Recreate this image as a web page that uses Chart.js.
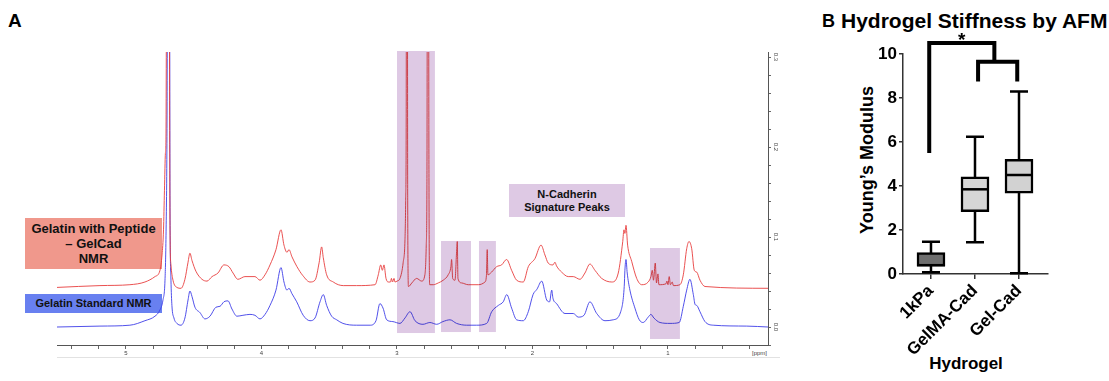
<!DOCTYPE html>
<html>
<head>
<meta charset="utf-8">
<script src="https://cdn.jsdelivr.net/npm/chart.js@4.4.1/dist/chart.umd.min.js"></script>
<style>
html,body{margin:0;padding:0;background:#fff;}
body{width:1109px;height:381px;position:relative;overflow:hidden;font-family:"Liberation Sans",Arial,Helvetica,sans-serif;}
.abs{position:absolute;}
.lbl{font-weight:bold;color:#111;text-align:center;box-sizing:border-box;}
canvas{position:absolute;}
</style>
</head>
<body>
<div class="abs" style="left:8px;top:11px;font-weight:bold;font-size:19px;line-height:19px;">A</div>
<div class="abs lbl" style="left:25px;top:218px;width:137px;height:51px;background:rgb(240,152,140);font-size:13px;line-height:15px;padding-top:3px;">Gelatin with Peptide<br>– GelCad<br>NMR</div>
<div class="abs lbl" style="left:25px;top:294px;width:137px;height:19px;background:rgb(104,128,240);font-size:11px;line-height:19px;">Gelatin Standard NMR</div>
<div class="abs lbl" style="left:509px;top:184px;width:116px;height:33px;background:rgb(222,201,228);font-size:11px;line-height:13px;padding-top:4px;">N-Cadherin<br>Signature Peaks</div>
<div class="abs" style="left:735px;top:350px;width:32px;text-align:right;font-size:6px;line-height:6px;color:#444;">[ppm]</div>
<div class="abs" style="left:57px;top:357px;width:723px;height:1px;background:#e2e2e2;"></div>

<div class="abs" style="left:822px;top:12px;font-weight:bold;font-size:18px;line-height:18px;">B</div>
<div class="abs" style="left:841px;top:10px;font-weight:bold;font-size:21px;line-height:21px;white-space:nowrap;">Hydrogel Stiffness by AFM</div>
<div class="abs" style="left:767px;top:149px;width:200px;height:22px;line-height:22px;text-align:center;font-weight:bold;font-size:18px;transform:rotate(-90deg);white-space:nowrap;">Young’s Modulus</div>
<div class="abs" style="left:916px;top:355px;width:100px;text-align:center;font-weight:bold;font-size:17px;line-height:17px;">Hydrogel</div>

<canvas id="nmr" width="760" height="322" style="left:40px;top:40px;"></canvas>
<canvas id="afm" width="289" height="381" style="left:820px;top:0px;"></canvas>

<script>
// ---------- NMR data (ppm, intensity) ----------
const blueShift = [5.509,5.192,4.971,4.860,4.786,4.749,4.727,4.712,4.705,4.698,4.690,4.679,4.675,4.668,4.661,4.646,4.624,4.594,4.565,4.542,4.528,4.513,4.491,4.454,4.417,4.380,4.336,4.306,4.277,4.247,4.218,4.181,4.137,4.085,4.048,4.011,3.974,3.937,3.893,3.856,3.834,3.812,3.797,3.775,3.740,3.692,3.642,3.605,3.568,3.544,3.519,3.482,3.445,3.399,3.298,3.199,3.155,3.126,3.103,3.076,3.030,2.978,2.941,2.904,2.867,2.808,2.757,2.707,2.661,2.609,2.560,2.486,2.412,2.338,2.301,2.252,2.216,2.190,2.154,2.117,2.068,2.031,1.996,1.967,1.932,1.895,1.874,1.858,1.849,1.822,1.760,1.699,1.662,1.620,1.576,1.526,1.465,1.404,1.349,1.323,1.318,1.310,1.301,1.281,1.244,1.212,1.183,1.146,1.126,1.104,1.059,0.985,0.917,0.887,0.862,0.838,0.813,0.800,0.788,0.764,0.727,0.666,0.419,0.262];
const blueInt = [0.000,0.001,0.002,0.007,0.012,0.019,0.030,0.052,0.097,0.197,0.5,0.5,0.141,0.052,0.024,0.010,0.004,0.002,0.010,0.030,0.040,0.034,0.022,0.016,0.009,0.012,0.022,0.023,0.028,0.029,0.020,0.012,0.013,0.014,0.013,0.009,0.014,0.024,0.041,0.066,0.050,0.041,0.043,0.037,0.028,0.013,0.007,0.010,0.028,0.036,0.024,0.012,0.008,0.004,0.002,0.002,0.007,0.026,0.021,0.008,0.006,0.004,0.010,0.017,0.007,0.003,0.005,0.003,0.006,0.008,0.004,0.002,0.002,0.004,0.017,0.024,0.028,0.036,0.021,0.008,0.007,0.017,0.036,0.042,0.051,0.030,0.028,0.041,0.032,0.026,0.015,0.015,0.011,0.013,0.028,0.015,0.007,0.008,0.017,0.045,0.063,0.075,0.060,0.041,0.021,0.008,0.005,0.011,0.014,0.010,0.005,0.004,0.005,0.023,0.041,0.053,0.036,0.025,0.024,0.017,0.006,0.002,0.001,0.000];

const redShift = [5.509,5.192,4.971,4.860,4.786,4.749,4.734,4.723,4.716,4.709,4.705,4.698,4.683,4.675,4.668,4.653,4.624,4.594,4.565,4.542,4.528,4.513,4.484,4.439,4.402,4.365,4.321,4.277,4.240,4.210,4.174,4.122,4.048,4.011,3.974,3.937,3.893,3.856,3.834,3.812,3.797,3.775,3.738,3.694,3.642,3.605,3.574,3.556,3.544,3.519,3.470,3.396,3.298,3.162,3.138,3.120,3.108,3.096,3.081,3.064,3.048,3.041,3.033,3.022,3.015,3.000,2.978,2.954,2.941,2.936,2.932,2.929,2.924,2.921,2.915,2.890,2.855,2.818,2.794,2.784,2.779,2.774,2.769,2.764,2.759,2.732,2.695,2.659,2.622,2.602,2.597,2.589,2.572,2.560,2.555,2.550,2.523,2.474,2.400,2.351,2.340,2.334,2.329,2.302,2.265,2.228,2.191,2.154,2.117,2.068,2.031,1.982,1.937,1.908,1.884,1.849,1.834,1.823,1.785,1.736,1.699,1.650,1.613,1.576,1.539,1.489,1.415,1.367,1.334,1.325,1.318,1.310,1.298,1.268,1.231,1.194,1.146,1.126,1.116,1.107,1.094,1.085,1.074,1.067,1.015,1.008,1.000,0.991,0.982,0.969,0.960,0.912,0.887,0.862,0.845,0.825,0.806,0.788,0.764,0.727,0.262];
const redInt = [0.044,0.046,0.047,0.050,0.056,0.063,0.080,0.108,0.152,0.193,0.208,0.5,0.5,0.108,0.069,0.052,0.044,0.043,0.053,0.072,0.082,0.074,0.062,0.053,0.051,0.056,0.060,0.069,0.067,0.060,0.053,0.056,0.056,0.052,0.058,0.069,0.086,0.108,0.091,0.083,0.086,0.078,0.067,0.057,0.050,0.052,0.072,0.089,0.077,0.058,0.050,0.046,0.046,0.047,0.058,0.069,0.063,0.069,0.054,0.050,0.050,0.054,0.050,0.054,0.050,0.051,0.054,0.072,0.097,0.139,0.230,0.6,0.6,0.141,0.045,0.049,0.054,0.051,0.058,0.091,0.158,0.6,0.6,0.166,0.047,0.047,0.049,0.052,0.058,0.067,0.075,0.054,0.052,0.084,0.095,0.054,0.049,0.047,0.047,0.050,0.057,0.086,0.058,0.061,0.067,0.069,0.075,0.063,0.052,0.050,0.067,0.076,0.091,0.080,0.071,0.069,0.072,0.068,0.061,0.056,0.056,0.053,0.060,0.070,0.063,0.054,0.050,0.060,0.095,0.108,0.104,0.113,0.091,0.073,0.054,0.047,0.050,0.056,0.063,0.052,0.071,0.049,0.059,0.047,0.048,0.051,0.047,0.056,0.047,0.050,0.046,0.047,0.058,0.087,0.095,0.087,0.063,0.061,0.052,0.045,0.043];

// highlighted N-cadherin regions (ppm / intensity)
const bandStart  = [3.000, 2.675, 2.395, 1.133];
const bandEnd    = [2.720, 2.454, 2.270, 0.912];
const bandTop    = [0.31, 0.0956, 0.0956, 0.0878];
const bandBottom = [-0.0067, -0.0056, -0.0056, -0.0133];

const ppmTicks = [5.4,5.2,5.0,4.8,4.6,4.4,4.2,4.0,3.8,3.6,3.4,3.2,3.0,2.8,2.6,2.4,2.2,2.0,1.8,1.6,1.4,1.2,1.0,0.8,0.6,0.4];
const ppmLabels = [5,4,3,2,1];
const intTicks = [-0.02,0,0.02,0.04,0.06,0.08,0.10,0.12,0.14,0.16,0.18,0.20,0.22,0.24,0.26,0.28,0.30];
const intLabels = [0.0,0.1,0.2,0.3];

// ---------- AFM box plot data ----------
const hydrogels = ['1kPa','GelMA-Cad','Gel-Cad'];
const boxMin    = [0.08, 1.44, 0.03];
const boxQ1     = [0.36, 2.83, 3.67];
const boxMedian = [0.40, 3.85, 4.50];
const boxQ3     = [0.97, 4.42, 5.21];
const boxMax    = [1.47, 6.24, 8.29];
const boxFill   = ['#6e6e6e', '#d6d6d6', '#d2d2d2'];
const modulusTicks = [0,2,4,6,8,10];
const sigBracketX = [[-0.04,-0.04,1.44,1.44],[1.07,1.07,1.96,1.96]];
const sigBracketY = [[5.5,10.5,10.5,9.65],[8.75,9.65,9.65,8.75]];
const sigStarX = 0.70, sigStarY = 10.82;

const FONT = '"Liberation Sans", Arial, Helvetica, sans-serif';
Chart.defaults.font.family = FONT;
Chart.defaults.animation = false;

function zip(xs, ys){ return xs.map((x,i)=>({x:x, y:ys[i]})); }

const nmrDecor = {
  id:'nmrDecor',
  afterDatasetsDraw(chart){
    const {ctx, chartArea, scales:{x, y}} = chart;
    ctx.save();
    ctx.globalCompositeOperation = 'multiply';
    ctx.fillStyle = 'rgb(222,201,228)';
    for (let i=0;i<bandStart.length;i++){
      const x1 = x.getPixelForValue(bandStart[i]);
      const x2 = x.getPixelForValue(bandEnd[i]);
      const y1 = Math.max(y.getPixelForValue(bandTop[i]), chartArea.top - 1);
      const y2 = y.getPixelForValue(bandBottom[i]);
      ctx.fillRect(Math.min(x1,x2), y1, Math.abs(x2-x1), y2-y1);
    }
    ctx.restore();
  },
  afterDraw(chart){
    const {ctx, scales:{y}} = chart;
    ctx.save();
    ctx.font = '6px ' + FONT;
    ctx.fillStyle = '#444';
    ctx.textAlign = 'center';
    ctx.textBaseline = 'middle';
    intLabels.forEach(v=>{
      const py = y.getPixelForValue(v);
      ctx.save();
      ctx.translate(y.left + 8, py);
      ctx.rotate(Math.PI/2);
      ctx.fillText(v.toFixed(1), 0, 0);
      ctx.restore();
    });
    ctx.restore();
  }
};

new Chart(document.getElementById('nmr'), {
  type:'line',
  data:{ datasets:[
    { label:'Gelatin with Peptide – GelCad NMR', data: zip(redShift, redInt), borderColor:'rgba(232,62,62,0.9)', borderWidth:1, pointRadius:0, cubicInterpolationMode:'monotone', fill:false },
    { label:'Gelatin Standard NMR', data: zip(blueShift, blueInt), borderColor:'rgba(62,62,232,0.9)', borderWidth:1, pointRadius:0, cubicInterpolationMode:'monotone', fill:false }
  ]},
  options:{
    responsive:false, devicePixelRatio:1, animation:false,
    layout:{ padding:{ left:17, top:12, right:0, bottom:0 } },
    plugins:{ legend:{display:false}, tooltip:{enabled:false} },
    scales:{
      x:{ type:'linear', reverse:true, min:0.262, max:5.509,
        afterBuildTicks: ax => { ax.ticks = ppmTicks.map(v=>({value:v})); },
        afterFit: s => { s.height = 17; },
        ticks:{ autoSkip:false, maxRotation:0, minRotation:0, padding:1, color:'#444', font:{size:6},
          callback: v => { const r = Math.round(v*10)/10; return ppmLabels.includes(r) ? String(r) : ''; } },
        grid:{ drawOnChartArea:false, drawTicks:true, tickLength:4, color:'#666', lineWidth:1 },
        border:{ display:true, color:'#555', width:1 }
      },
      y:{ type:'linear', position:'right', min:-0.02, max:0.3056,
        afterBuildTicks: ax => { ax.ticks = intTicks.map(v=>({value:v})); },
        afterFit: s => { s.width = 32; },
        ticks:{ display:false },
        grid:{ drawOnChartArea:false, drawTicks:true, tickLength:3, color:'#666', lineWidth:1 },
        border:{ display:true, color:'#555', width:1 }
      }
    }
  },
  plugins:[nmrDecor]
});

const boxDecor = {
  id:'boxDecor',
  beforeDatasetsDraw(chart){
    const {ctx, scales:{x, y}} = chart;
    ctx.save();
    ctx.strokeStyle = '#000';
    ctx.lineWidth = 2.5;
    ctx.lineCap = 'butt';
    hydrogels.forEach((n,i)=>{
      const cx = x.getPixelForValue(i);
      const yMin = y.getPixelForValue(boxMin[i]);
      const yMax = y.getPixelForValue(boxMax[i]);
      ctx.beginPath();
      ctx.moveTo(cx, yMax); ctx.lineTo(cx, yMin);
      ctx.moveTo(cx-9, yMax); ctx.lineTo(cx+9, yMax);
      ctx.moveTo(cx-9, yMin); ctx.lineTo(cx+9, yMin);
      ctx.stroke();
    });
    ctx.restore();
  },
  afterDatasetsDraw(chart){
    const {ctx, scales:{x, y}} = chart;
    ctx.save();
    ctx.strokeStyle = '#000';
    ctx.lineWidth = 2.5;
    hydrogels.forEach((n,i)=>{
      const cx = x.getPixelForValue(i);
      const ym = y.getPixelForValue(boxMedian[i]);
      ctx.beginPath();
      ctx.moveTo(cx-14, ym); ctx.lineTo(cx+14, ym);
      ctx.stroke();
    });
    ctx.lineWidth = 4;
    ctx.lineJoin = 'miter';
    sigBracketX.forEach((xs, k)=>{
      ctx.beginPath();
      xs.forEach((xv, j)=>{
        const px = x.getPixelForValue(xv), py = y.getPixelForValue(sigBracketY[k][j]);
        if (j===0) ctx.moveTo(px, py); else ctx.lineTo(px, py);
      });
      ctx.stroke();
    });
    ctx.fillStyle = '#000';
    ctx.font = 'bold 19px ' + FONT;
    ctx.textAlign = 'center';
    ctx.textBaseline = 'alphabetic';
    ctx.fillText('*', x.getPixelForValue(sigStarX), y.getPixelForValue(sigStarY) + 10);
    ctx.restore();
  }
};

new Chart(document.getElementById('afm'), {
  type:'bar',
  data:{ datasets:[{
    label:'Young’s Modulus',
    data: hydrogels.map((n,i)=>({x:i, y:[boxQ1[i], boxQ3[i]]})),
    backgroundColor: boxFill, borderColor:'#000', borderWidth:2.5, borderSkipped:false, barThickness:28
  }]},
  options:{
    responsive:false, devicePixelRatio:1, animation:false,
    layout:{ padding:{ left:43, top:54, right:61, bottom:22 } },
    plugins:{ legend:{display:false}, tooltip:{enabled:false} },
    scales:{
      x:{ type:'linear', min:-0.636, max:2.659, offset:false,
        afterBuildTicks: ax => { ax.ticks = hydrogels.map((n,i)=>({value:i})); },
        afterFit: s => { s.height = 85; },
        ticks:{ autoSkip:false, minRotation:45, maxRotation:45, padding:2, color:'#000', font:{size:17, weight:'bold'},
          callback: v => hydrogels[v] },
        grid:{ offset:false, drawOnChartArea:false, drawTicks:true, tickLength:5, color:'#333', lineWidth:1.5 },
        border:{ display:true, color:'#333', width:1.5 }
      },
      y:{ type:'linear', min:0, max:10,
        afterBuildTicks: ax => { ax.ticks = modulusTicks.map(v=>({value:v})); },
        afterFit: s => { s.width = 40; },
        ticks:{ padding:2, color:'#000', font:{size:17, weight:'bold'} },
        grid:{ drawOnChartArea:false, drawTicks:true, tickLength:4, color:'#333', lineWidth:1.5 },
        border:{ display:true, color:'#333', width:1.5 }
      }
    }
  },
  plugins:[boxDecor]
});
</script>
</body>
</html>
